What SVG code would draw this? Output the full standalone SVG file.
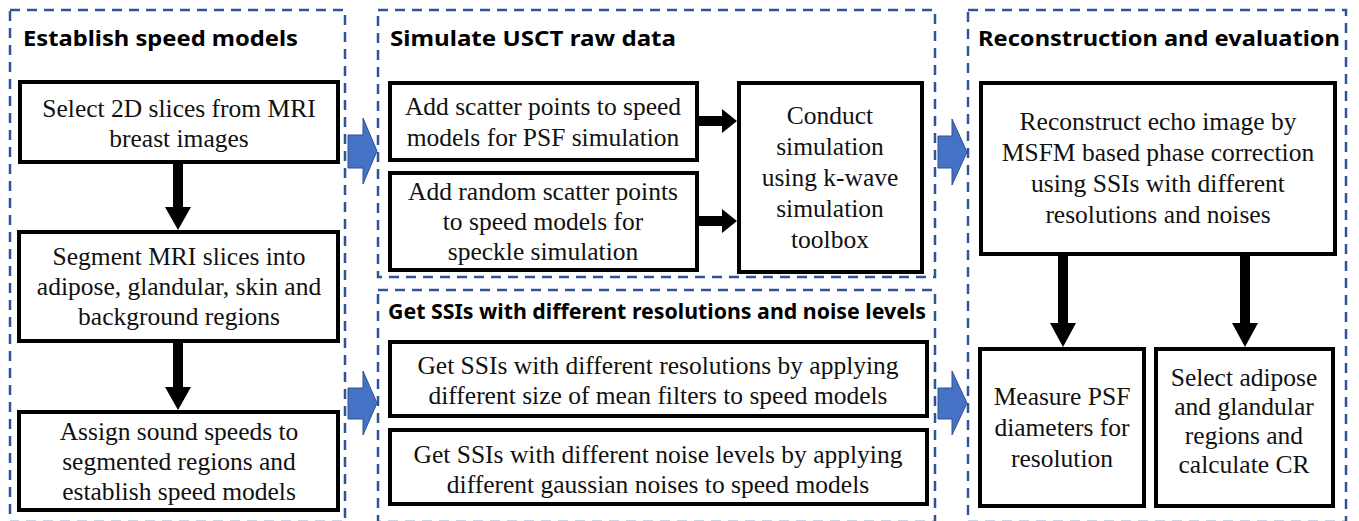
<svg xmlns="http://www.w3.org/2000/svg" width="1359" height="521" viewBox="0 0 1359 521">
<style>
.panel{fill:none;stroke:#2f5597;stroke-width:2.5;stroke-dasharray:10 7}
.box{fill:#fff;stroke:#000;stroke-width:4}
.t{font-family:"Liberation Serif","Times New Roman",serif;font-size:25.5px;fill:#111;text-anchor:middle}
.h{font-family:"Noto Sans","Open Sans",sans-serif;font-weight:bold;font-size:22px;fill:#000}
.blk{fill:#000}
.blue{fill:#4472c4;stroke:#2f528f;stroke-width:1}
</style>
<rect width="1359" height="521" fill="#fff"/>
<g id="panels">
<rect class="panel" x="10" y="10" width="335" height="512"/>
<rect class="panel" x="378" y="10" width="557" height="267"/>
<rect class="panel" x="378" y="290" width="557" height="232"/>
<rect class="panel" x="968" y="10" width="378" height="512"/>
<text class="h" x="23" y="46" textLength="275" lengthAdjust="spacingAndGlyphs">Establish speed models</text>
<text class="h" x="390" y="46" textLength="286" lengthAdjust="spacingAndGlyphs">Simulate USCT raw data</text>
<text class="h" x="388" y="319" textLength="538" lengthAdjust="spacingAndGlyphs">Get SSIs with different resolutions and noise levels</text>
<text class="h" x="978" y="46" textLength="362" lengthAdjust="spacingAndGlyphs">Reconstruction and evaluation</text>
</g>
<g id="connectors">
<path class="blk" d="M173,162 V207 H165 L178,230 L191,207 H183 V162 Z"/>
<path class="blk" d="M173,341 V387 H165 L178,410 L191,387 H183 V341 Z"/>
<path class="blk" d="M697,116 H722 V109 L737,121 L722,133 V126 H697 Z"/>
<path class="blk" d="M697,216 H722 V209 L737,221 L722,233 V226 H697 Z"/>
<path class="blk" d="M1058,254 V323 H1050 L1063,347 L1076,323 H1068 V254 Z"/>
<path class="blk" d="M1240,254 V323 H1232 L1245,347 L1258,323 H1250 V254 Z"/>
<polygon class="blue" points="348,135 363,135 363,118 377,151 363,184 363,168 348,168"/>
<polygon class="blue" points="348,388 363,388 363,371 377,403 363,435 363,419 348,419"/>
<polygon class="blue" points="938,136 952,136 952,119 967,152 952,185 952,168 938,168"/>
<polygon class="blue" points="938,388 952,388 952,371 967,403 952,435 952,419 938,419"/>
</g>
<g id="n1"><rect class="box" x="20" y="82" width="318" height="80"/>
<text class="t" x="179" y="117">Select 2D slices from MRI</text><text class="t" x="179" y="147">breast images</text></g>
<g id="n2"><rect class="box" x="19" y="232" width="319" height="109"/>
<text class="t" x="179" y="265">Segment MRI slices into</text><text class="t" x="179" y="295">adipose, glandular, skin and</text><text class="t" x="179" y="325">background regions</text></g>
<g id="n3"><rect class="box" x="19" y="412" width="319" height="98"/>
<text class="t" x="179" y="440">Assign sound speeds to</text><text class="t" x="179" y="470">segmented regions and</text><text class="t" x="179" y="500">establish speed models</text></g>
<g id="n4"><rect class="box" x="390" y="83" width="307" height="77"/>
<text class="t" x="543" y="115">Add scatter points to speed</text><text class="t" x="543" y="146">models for PSF simulation</text></g>
<g id="n5"><rect class="box" x="390" y="173" width="307" height="97"/>
<text class="t" x="543" y="200">Add random scatter points</text><text class="t" x="543" y="230">to speed models for</text><text class="t" x="543" y="260">speckle simulation</text></g>
<g id="n6"><rect class="box" x="739" y="83" width="183" height="189"/>
<text class="t" x="830" y="124">Conduct</text><text class="t" x="830" y="155">simulation</text><text class="t" x="830" y="186">using k-wave</text><text class="t" x="830" y="217">simulation</text><text class="t" x="830" y="248">toolbox</text></g>
<g id="n7"><rect class="box" x="390" y="342" width="537" height="74"/>
<text class="t" x="658" y="374">Get SSIs with different resolutions by applying</text><text class="t" x="658" y="404">different size of mean filters to speed models</text></g>
<g id="n8"><rect class="box" x="390" y="430" width="537" height="74"/>
<text class="t" x="658" y="463">Get SSIs with different noise levels by applying</text><text class="t" x="658" y="493">different gaussian noises to speed models</text></g>
<g id="n9"><rect class="box" x="981" y="83" width="354" height="171"/>
<text class="t" x="1158" y="130">Reconstruct echo image by</text><text class="t" x="1158" y="161">MSFM based phase correction</text><text class="t" x="1158" y="192">using SSIs with different</text><text class="t" x="1158" y="223">resolutions and noises</text></g>
<g id="n10"><rect class="box" x="980" y="349" width="164" height="157"/>
<text class="t" x="1062" y="405">Measure PSF</text><text class="t" x="1062" y="436">diameters for</text><text class="t" x="1062" y="467">resolution</text></g>
<g id="n11"><rect class="box" x="1156" y="349" width="177" height="157"/>
<text class="t" x="1244" y="386">Select adipose</text><text class="t" x="1244" y="415">and glandular</text><text class="t" x="1244" y="444">regions and</text><text class="t" x="1244" y="473">calculate CR</text></g>
</svg>
